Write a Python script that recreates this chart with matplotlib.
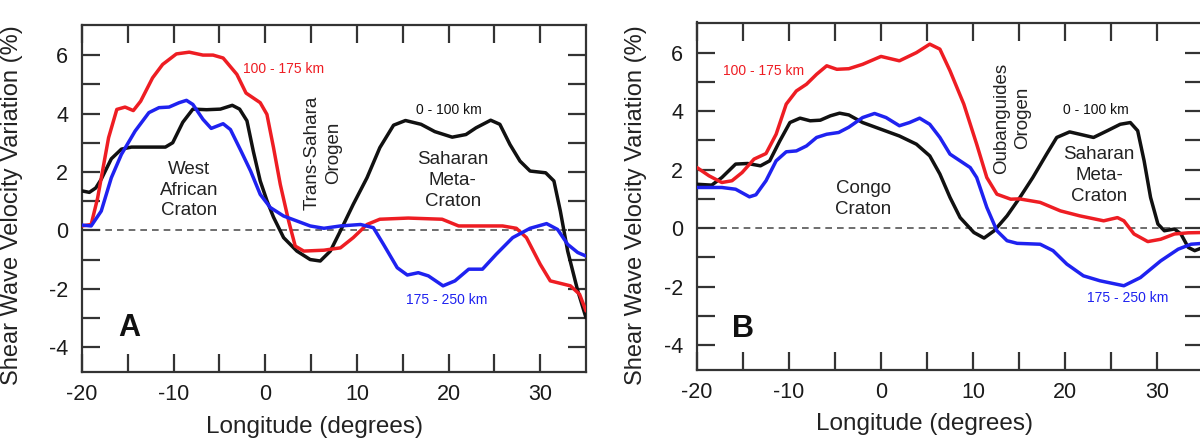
import matplotlib
matplotlib.use("Agg")
import matplotlib.pyplot as plt
import numpy as np

plt.rcParams['font.family'] = ['Liberation Sans', 'DejaVu Sans']

# ---- Panel A: West Africa profile ----
a_black_lon = [-20, -19.2, -18.5, -17.9, -16.8, -15.7, -14.6, -12.5, -10.9, -10.1, -9.0, -7.9,
               -6.4, -4.9, -3.6, -2.8, -2.0, -1.3, -0.55, 0.2, 0.9, 2.0, 3.45, 4.9, 6.0, 7.1,
               8.2, 9.6, 11.1, 12.5, 14.0, 15.3, 17.0, 18.5, 20.4, 21.9, 23.0, 24.6, 25.6,
               26.7, 27.8, 28.9, 30.6, 31.5, 32.2, 33.0, 34.1, 35.0]
a_black_dv = [1.35, 1.3, 1.45, 1.75, 2.45, 2.78, 2.85, 2.85, 2.85, 3.0, 3.7, 4.15,
              4.13, 4.15, 4.28, 4.15, 3.75, 2.7, 1.69, 1.0, 0.45, -0.25, -0.71, -1.0, -1.05, -0.71,
              -0.02, 0.89, 1.8, 2.83, 3.6, 3.76, 3.63, 3.38, 3.19, 3.28, 3.51, 3.77, 3.63,
              2.94, 2.37, 2.03, 1.97, 1.69, 0.66, -0.71, -2.07, -2.99]

a_red_lon = [-20, -19, -18.3, -17.1, -16.2, -15.3, -14.4, -13.6, -12.3, -11.2, -9.7, -8.3,
             -6.8, -5.7, -4.6, -3.1, -2.1, -0.55, 0.18, 0.9, 1.64, 2.55, 3.27, 4.2, 6.4, 8.2,
             9.6, 11.1, 12.5, 15.6, 19.3, 21.1, 25.9, 27.4, 28.5, 30.0, 31.1, 33.3, 34.3, 35]
a_red_dv = [0.15, 0.2, 1.1, 3.17, 4.14, 4.22, 4.1, 4.42, 5.22, 5.68, 6.04, 6.1,
            6.0, 6.0, 5.9, 5.34, 4.7, 4.37, 3.97, 2.83, 1.57, 0.32, -0.54, -0.71, -0.68, -0.6,
            -0.25, 0.2, 0.38, 0.42, 0.38, 0.15, 0.15, 0.07, -0.25, -1.16, -1.73, -1.9, -2.19, -2.76]

a_blue_lon = [-20, -19, -17.9, -16.8, -15.7, -14.2, -12.7, -11.6, -10.5, -9.4, -8.6, -7.9,
              -6.8, -5.9, -4.6, -3.8, -2.7, -1.6, -0.55, 0.55, 2.0, 3.45, 4.9, 6.4, 8.2, 10.4,
              11.8, 12.9, 14.4, 15.5, 16.7, 17.8, 19.4, 20.7, 22.2, 23.7, 25.2, 27.0, 28.9,
              30.7, 31.9, 33.0, 34.1, 35]
a_blue_dv = [0.18, 0.15, 0.66, 1.8, 2.6, 3.4, 4.03, 4.2, 4.22, 4.37, 4.45, 4.31,
             3.8, 3.49, 3.65, 3.45, 2.75, 2.03, 1.23, 0.78, 0.49, 0.32, 0.15, 0.07, 0.15, 0.2,
             0.09, -0.48, -1.28, -1.53, -1.45, -1.56, -1.9, -1.73, -1.33, -1.33, -0.82, -0.25, 0.07,
             0.23, 0.03, -0.48, -0.76, -0.88]

# ---- Panel B: Central Africa profile ----
b_black_lon = [-20, -18.4, -17.3, -15.8, -14.5, -13.1, -12.1, -11.0, -9.9, -8.8, -7.7, -6.6,
               -5.5, -4.5, -3.5, -2.0, 0, 2.0, 3.85, 5.3, 6.4, 7.5, 8.6, 10.1, 11.2, 12.3,
               13.7, 15.1, 16.5, 18.0, 19.1, 20.5, 21.6, 23.1, 24.6, 26.0, 27.1, 27.9, 28.6,
               29.3, 30.1, 30.8, 31.9, 32.6, 33.4, 34.1, 35]
b_black_dv = [1.5, 1.47, 1.73, 2.19, 2.21, 2.13, 2.3, 2.98, 3.61, 3.76, 3.67, 3.69,
              3.84, 3.93, 3.87, 3.61, 3.38, 3.15, 2.87, 2.47, 1.85, 1.05, 0.36, -0.15, -0.34, -0.09,
              0.42, 1.05, 1.73, 2.53, 3.1, 3.29, 3.21, 3.1, 3.33, 3.55, 3.61, 3.33, 2.3,
              1.05, 0.14, -0.09, -0.03, -0.2, -0.66, -0.77, -0.66]

b_red_lon = [-20, -18.7, -17.3, -16.2, -15.1, -13.8, -12.5, -11.4, -10.3, -9.2, -8.1, -7.0,
             -5.9, -4.8, -3.5, -2.0, 0, 2.0, 3.85, 5.3, 6.4, 7.5, 9.0, 10.4, 11.5, 12.6,
             14.1, 15.05, 17.3, 19.5, 21.6, 24.2, 25.7, 26.4, 27.5, 29.0, 30.4, 31.9, 33.4, 35]
b_red_dv = [2.07, 1.79, 1.56, 1.62, 1.9, 2.36, 2.55, 3.21, 4.24, 4.69, 4.92, 5.26,
            5.55, 5.43, 5.45, 5.6, 5.87, 5.72, 6.0, 6.29, 6.12, 5.38, 4.24, 2.87, 1.73, 1.16,
            0.99, 1.0, 0.88, 0.59, 0.42, 0.25, 0.36, 0.25, -0.2, -0.46, -0.38, -0.2, -0.16, -0.15]

b_blue_lon = [-20, -17.3, -15.8, -14.3, -13.6, -12.5, -11.4, -10.3, -9.2, -8.1, -7.0, -5.9,
              -4.6, -3.5, -2.0, -0.7, 0.55, 2.0, 3.1, 4.2, 5.3, 6.4, 7.5, 8.6, 9.7, 10.4,
              11.5, 12.6, 13.7, 14.8, 17.3, 18.7, 20.2, 22.0, 23.8, 26.4, 28.2, 30.4, 32.3,
              33.7, 35]
b_blue_dv = [1.39, 1.39, 1.33, 1.07, 1.14, 1.62, 2.3, 2.61, 2.64, 2.81, 3.1, 3.21,
             3.27, 3.45, 3.78, 3.92, 3.78, 3.5, 3.61, 3.76, 3.55, 3.1, 2.53, 2.3, 2.07, 1.73,
             0.71, -0.09, -0.43, -0.52, -0.55, -0.77, -1.23, -1.63, -1.8, -1.97, -1.69, -1.12, -0.72,
             -0.55, -0.52]

depth_labels = ["0 - 100 km", "100 - 175 km", "175 - 250 km"]
x_tick_labels = ["-20", "-10", "0", "10", "20", "30"]
y_tick_labels = ["-4", "-2", "0", "2", "4", "6"]

RED = "#ee1d23"
BLUE = "#1f22f0"
BLACK = "#111111"
FRAME = "#333333"

W, H = 1200, 441
fig = plt.figure(figsize=(W / 100, H / 100), dpi=100)

YLIM = (-4.85, 7.03)


def px_axes(left, top, right, bottom):
    return fig.add_axes([left / W, 1 - bottom / H, (right - left) / W, (bottom - top) / H])


def style_axes(ax):
    ax.set_xlim(-20, 35)
    ax.set_ylim(*YLIM)
    ax.set_xticks([-20, -10, 0, 10, 20, 30])
    ax.set_xticklabels(x_tick_labels)
    ax.set_xticks([-15, -5, 5, 15, 25], minor=True)
    ax.set_yticks([-4, -2, 0, 2, 4, 6])
    ax.set_yticklabels(y_tick_labels)
    ax.set_yticks([-3, -1, 1, 3, 5], minor=True)
    ax.tick_params(which='both', direction='in', length=13, width=1.6, color=FRAME,
                   top=True, right=True, labelsize=15.5, labelcolor="#1a1a1a")
    ax.tick_params(axis='x', which='both', pad=9)
    ax.tick_params(axis='y', which='both', pad=10)
    for s in ax.spines.values():
        s.set_linewidth(1.6)
        s.set_color(FRAME)
    ax.axhline(0, color="#555555", lw=1.2, ls=(0, (4, 3)), zorder=1)


def draw_profiles(ax, black, red, blue):
    for (lon, dv), c in ((black, BLACK), (red, RED), (blue, BLUE)):
        ax.plot(lon, dv, color=c, lw=2.5, solid_joinstyle='round', solid_capstyle='round',
                zorder=3)


txt = dict(ha='center', va='center', fontsize=13.5, color="#222222", linespacing=1.3)
small = dict(ha='center', va='center', fontsize=10)

# Panel A
axA = px_axes(82, 25, 586, 372)
style_axes(axA)
draw_profiles(axA, (a_black_lon, a_black_dv), (a_red_lon, a_red_dv), (a_blue_lon, a_blue_dv))
axA.text(-8.3, 1.38, "West\nAfrican\nCraton", **txt)
axA.text(6.3, 2.66, "Trans-Sahara\nOrogen", rotation=90, multialignment='center', **txt)
axA.text(20.45, 1.7, "Saharan\nMeta-\nCraton", **txt)
axA.text(20.0, 4.13, depth_labels[0], color=BLACK, **small)
axA.text(2.0, 5.54, depth_labels[1], color=RED, **small)
axA.text(19.8, -2.39, depth_labels[2], color=BLUE, **small)
axA.text(-14.8, -3.33, "A", ha='center', va='center', fontsize=22, fontweight='bold',
         color="#111111")

# Panel B
axB = px_axes(697, 22.5, 1203, 370)
style_axes(axB)
draw_profiles(axB, (b_black_lon, b_black_dv), (b_red_lon, b_red_dv), (b_blue_lon, b_blue_dv))
axB.text(-1.9, 0.99, "Congo\nCraton", **txt)
axB.text(14.3, 3.76, "Oubanguides\nOrogen", rotation=90, multialignment='center', **txt)
axB.text(23.7, 1.79, "Saharan\nMeta-\nCraton", **txt)
axB.text(23.4, 4.04, depth_labels[0], color=BLACK, **small)
axB.text(-12.8, 5.36, depth_labels[1], color=RED, **small)
axB.text(26.8, -2.39, depth_labels[2], color=BLUE, **small)
axB.text(-15.0, -3.45, "B", ha='center', va='center', fontsize=22, fontweight='bold',
         color="#111111")

# Axis titles
ylab = "Shear Wave Velocity Variation (%)"
fig.text(12 / W, 1 - 205 / H, ylab, rotation=90, ha='center', va='center', fontsize=17,
         color="#222222")
fig.text(636 / W, 1 - 205 / H, ylab, rotation=90, ha='center', va='center', fontsize=17,
         color="#222222")
fig.text(315 / W, 1 - 427 / H, "Longitude (degrees)", ha='center', va='center', fontsize=17.5,
         color="#222222")
fig.text(925 / W, 1 - 424 / H, "Longitude (degrees)", ha='center', va='center', fontsize=17.5,
         color="#222222")

fig.savefig("out.png", dpi=100, facecolor="white")
